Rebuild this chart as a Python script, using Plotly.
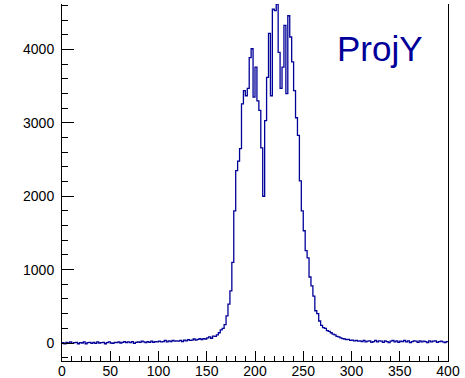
import numpy as np
import plotly.graph_objects as go

# Histogram "ProjY": 200 bins from 0 to 400
x_low, x_high = 0, 400

counts_left = [
    5, -10, 10, 0, 15, -5, 5, 10, -10, 5,
    0, 15, -10, 5, 10, -5, 10, -5, 15, 0,
    5, 10, -10, 5, 15, 0, -5, 10, 5, 15,
    0, 10, 20, 5, 15, 5, 20, -5, 10, 15,
    10, 25, 15, 5, 20, 10, 25, 10, 20, 15,
    25, 15, 20, 35, 15, 30, 20, 35, 25, 30,
]
counts_rise = [25, 35, 20, 40, 30, 45, 35, 40, 55, 40, 50, 60, 45, 60, 55,
               70, 85, 65, 95, 90, 110, 140, 180, 200, 250]
counts_peak = [370, 530, 710, 1100, 1800, 2350, 2480, 2650, 3260, 3440,
               3370, 3470, 3890, 4010, 3350,
               3760, 3300, 3170, 2660, 2000, 3030, 3620, 4220, 3370, 4550,
               4530, 4620, 3960, 3470, 3760, 4330, 3400, 4460, 4170, 3830,
               3440, 3070, 2830, 2210, 1800]
counts_fall = [1530, 1260, 1160, 900, 780, 640, 440, 400, 300, 240,
               210, 200, 170, 160, 140]
counts_right = [
    120, 110, 90, 85, 70, 60, 55, 45, 50, 35,
    40, 30, 35, 25, 30, 20, 35, 15, 25, 30,
    10, 20, 35, 15, 30, 25, 10, 30, 20, 5,
    25, 35, 15, 30, 10, 25, 20, 35, 15, 30,
    5, 20, 30, 25, 10, 30, 15, 25, 20, 5,
    30, 15, 25, 30, 10, 20, 25, 15, 5, 20,
]
title_text = "ProjY"

counts = counts_left + counts_rise + counts_peak + counts_fall + counts_right
n_bins = len(counts)
edges = np.linspace(x_low, x_high, n_bins + 1)
y_step = counts + [counts[-1]]

blue = "#000099"
font_family = "Liberation Sans, Arial, sans-serif"

fig = go.Figure()
fig.add_trace(go.Scatter(
    x=edges, y=y_step, mode="lines", line_shape="hv",
    line=dict(color=blue, width=1.3), hoverinfo="skip", showlegend=False,
))

fig.add_annotation(
    text=title_text, xref="paper", yref="paper", x=0.825, y=0.875,
    xanchor="center", yanchor="middle", showarrow=False,
    font=dict(family=font_family, size=35, color=blue),
)

fig.update_layout(
    width=465, height=378,
    margin=dict(l=62, r=17, t=4, b=17),
    paper_bgcolor="white", plot_bgcolor="white",
    font=dict(family=font_family, size=14, color="black"),
    showlegend=False,
)
fig.update_xaxes(
    range=[x_low, x_high], showgrid=False, zeroline=False,
    showline=True, linecolor="black", linewidth=1, mirror=False,
    ticks="inside", ticklen=10, tickwidth=1, tickcolor="black",
    tick0=0, dtick=50, automargin=False, ticklabelstandoff=-3,
    minor=dict(ticks="inside", ticklen=5, dtick=10, tickcolor="black", showgrid=False),
    tickfont=dict(size=14, family=font_family, color="black"),
)
fig.update_yaxes(
    range=[-245, 4620], showgrid=False, zeroline=False,
    showline=True, linecolor="black", linewidth=1, mirror=True,
    ticks="inside", ticklen=12, tickwidth=1, tickcolor="black",
    tick0=0, dtick=1000, automargin=False, ticklabelstandoff=4,
    minor=dict(ticks="inside", ticklen=6, dtick=200, tickcolor="black", showgrid=False),
    tickfont=dict(size=14, family=font_family, color="black"),
)

fig.write_html(
    "out.html",
    config={"displayModeBar": False},
    post_script="document.body.style.margin='0';document.body.style.padding='0';",
)
